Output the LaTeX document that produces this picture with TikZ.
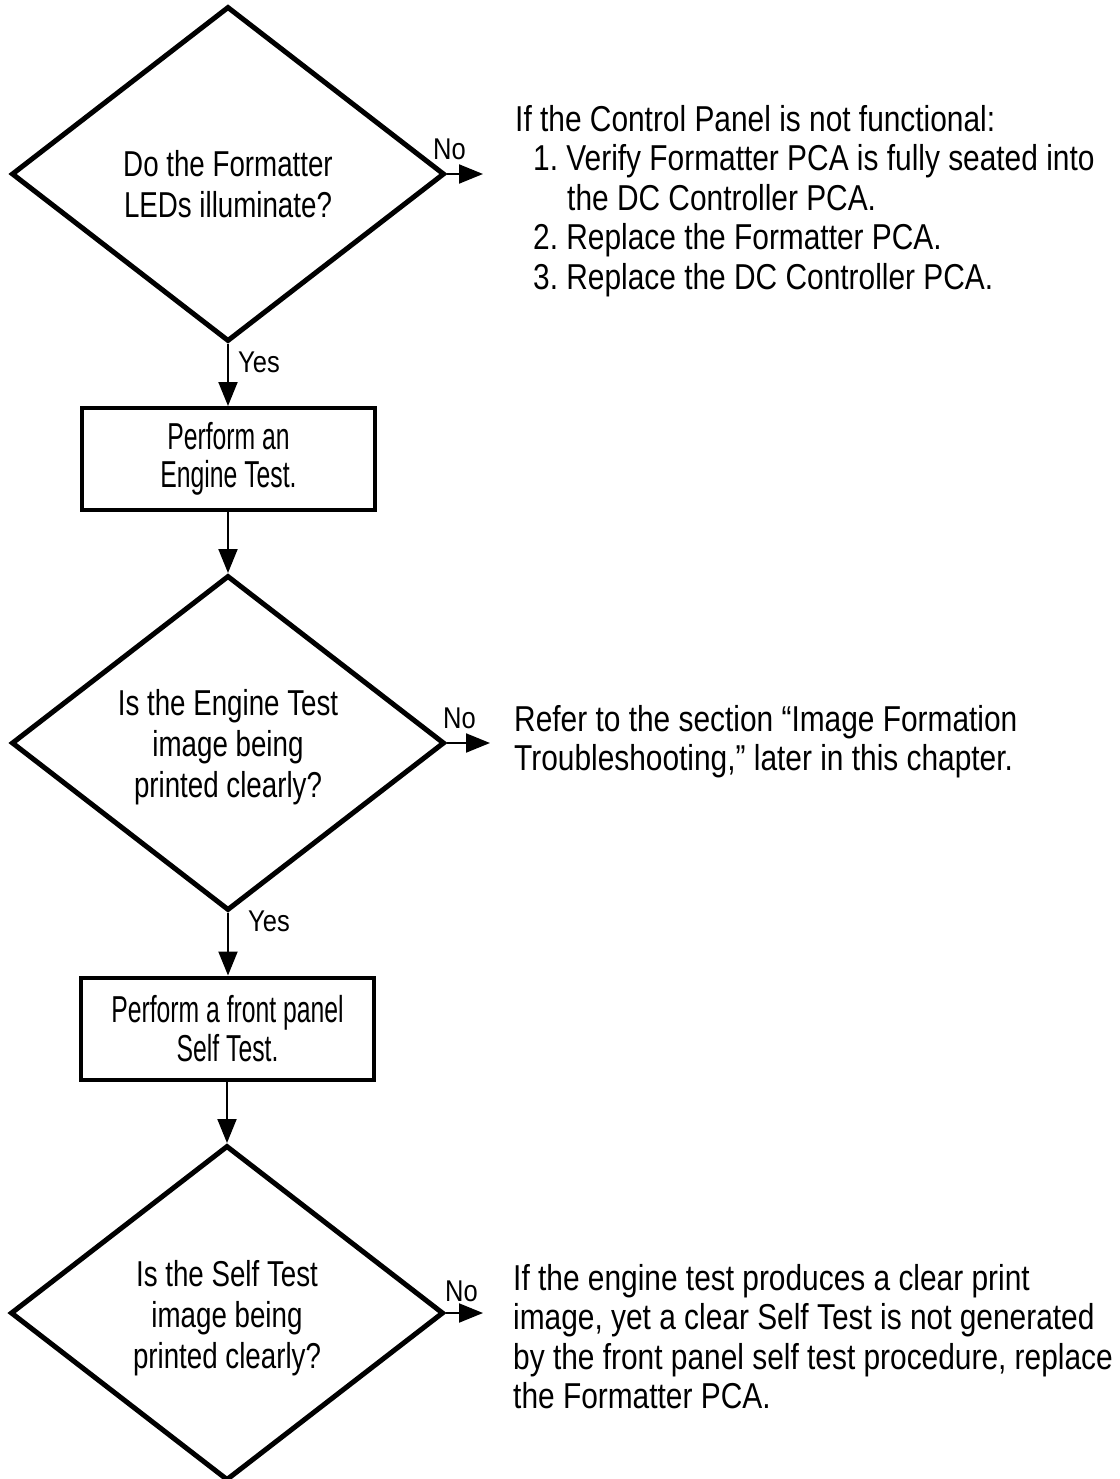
\documentclass[tikz,border=0pt]{standalone}
\usepackage{fontspec}
\setmainfont{Liberation Sans}
\newfontfamily\rtfont[FakeStretch=0.83]{Liberation Sans}
\newfontfamily\ynfont[FakeStretch=0.85]{Liberation Sans}
\newfontfamily\dfont[FakeStretch=0.77]{Liberation Sans}
\newfontfamily\bxfont[FakeStretch=0.66]{Liberation Sans}
\usetikzlibrary{shapes.geometric,arrows.meta}
\frenchspacing

\begin{document}
\begin{tikzpicture}[x=1pt,y=-1pt,
  decision/.style={diamond, draw, line width=5pt, inner sep=0pt,
    minimum width=433pt, minimum height=335pt},
  dlab/.style={align=center, inner sep=0pt,
    font=\dfont\fontsize{36}{41}\selectfont},
  procbox/.style={rectangle, draw, line width=4pt, minimum width=293pt,
    minimum height=102pt, align=center, inner sep=0pt,
    font=\bxfont\fontsize{37.5}{38.5}\selectfont},
  flow/.style={line width=2pt, -{Triangle[length=24pt,width=19pt]}},
  yn/.style={anchor=base west, inner sep=0pt,
    font=\ynfont\fontsize{30}{32}\selectfont},
  note/.style={anchor=north west, align=left, inner sep=0pt,
    font=\rtfont\fontsize{36}{39.5}\selectfont}
]
\fill[white] (0,0) rectangle (1119,1479);
\useasboundingbox (0,0) rectangle (1119,1479);

% decisions
\node[decision, label={[dlab, name=d1t, yshift=-10pt]center:{Do the Formatter\\LEDs illuminate?}}] (d1) at (228,174) {};
\node[decision, label={[dlab, name=d2t, yshift=-4pt]center:{Is the Engine Test\\image being\\printed clearly?}}] (d2) at (228,743) {};
\node[decision, label={[dlab, name=d3t, yshift=-5pt]center:{Is the Self Test\\image being\\printed clearly?}}] (d3) at (227,1313) {};

% process boxes
\node[procbox] (b1) at (228.5,459) {Perform an\\Engine Test.};
\node[procbox] (b2) at (227.5,1028.5) {Perform a front panel\\Self Test.};

% vertical flow
\draw[flow] (d1.south) -- (d1.south |- b1.north);
\draw[flow] (b1.south -| d2.north) -- (d2.north);
\draw[flow] (d2.south) -- (d2.south |- b2.north);
\draw[flow] (b2.south -| d3.north) -- (d3.north);

% No branches
\coordinate (n1) at (483,174);
\coordinate (n2) at (490,743);
\coordinate (n3) at (483,1313);
\draw[flow] (d1.east) -- (n1);
\draw[flow] (d2.east) -- (n2);
\draw[flow] (d3.east) -- (n3);

% Yes / No labels
\node[yn] (y1) at (238,372) {Yes};
\node[yn] (y2) at (248,931) {Yes};
\node[yn] (no1) at (433,160) {No};
\node[yn] (no2) at (443,728) {No};
\node[yn] (no3) at (445,1301) {No};

% notes
\node[note] (t1) at (515,105) {If the Control Panel is not functional:\\
\hspace*{18pt}1. Verify Formatter PCA is fully seated into\\
\hspace*{52pt}the DC Controller PCA.\\
\hspace*{18pt}2. Replace the Formatter PCA.\\
\hspace*{18pt}3. Replace the DC Controller PCA.};
\node[note] (t2) at (514,705) {Refer to the section “Image Formation\\
Troubleshooting,” later in this chapter.};
\node[note] (t3) at (513,1264) {If the engine test produces a clear print\\
image, yet a clear Self Test is not generated\\
by the front panel self test procedure, replace\\
the Formatter PCA.};
\end{tikzpicture}
\end{document}
